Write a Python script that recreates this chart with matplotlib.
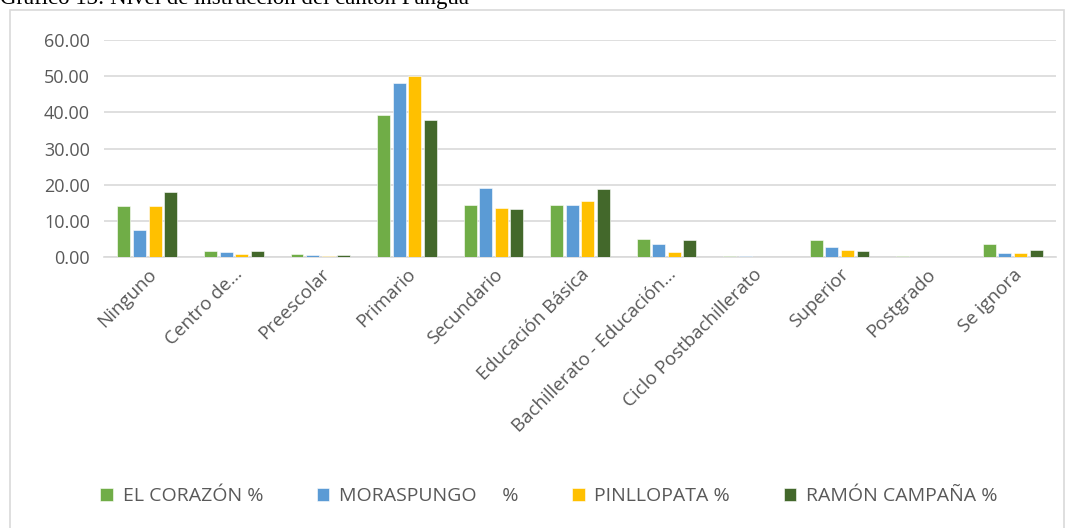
import numpy as np
import matplotlib.pyplot as plt
from matplotlib.patches import Rectangle

# Education level per parish (percent)
categories = ["Ninguno", "Centro de…", "Preescolar", "Primario", "Secundario",
              "Educación Básica", "Bachillerato - Educación…",
              "Ciclo Postbachillerato", "Superior", "Postgrado", "Se ignora"]
el_corazon = [14.2, 1.7, 0.9, 39.2, 14.4, 14.5, 5.1, 0.2, 4.7, 0.2, 3.7]
moraspungo = [7.5, 1.4, 0.6, 48.1, 19.0, 14.3, 3.7, 0.2, 2.9, 0.0, 1.0]
pinllopata = [14.1, 0.9, 0.3, 50.0, 13.6, 15.5, 1.5, 0.0, 1.9, 0.0, 1.2]
ramon_campana = [18.1, 1.7, 0.6, 37.8, 13.3, 18.9, 4.8, 0.0, 1.7, 0.0, 1.8]

series = [
    ("EL CORAZÓN %", el_corazon, "#70AD47"),
    ("MORASPUNGO     %", moraspungo, "#5B9BD5"),
    ("PINLLOPATA %", pinllopata, "#FFC000"),
    ("RAMÓN CAMPAÑA %", ramon_campana, "#43682B"),
]

TEXT = "#595959"
GRID = "#d9d9d9"

fig = plt.figure(figsize=(10.67, 5.28), dpi=100)
fig.patch.set_facecolor("white")

# Outer chart frame
fig.patches.append(Rectangle((10 / 1067, -0.01), 1054 / 1067, 1 - 10 / 528 + 0.01,
                             transform=fig.transFigure, fill=False,
                             edgecolor=GRID, linewidth=1.2))

# Caption above the frame (only partly in view)
fig.text(0.0, 1 - 4 / 528, "Gráfico 13: Nivel de instrucción del cantón Pangua",
         family="Liberation Serif", fontsize=16.5, va="baseline", ha="left")

ax = fig.add_axes([104 / 1067, 1 - 257 / 528, 952 / 1067, 217 / 528])
x = np.arange(len(categories))
step = 0.18
width = 0.15
for i, (label, vals, color) in enumerate(series):
    ax.bar(x + (i - 1.5) * step, vals, width=width, color=color, label=label,
           edgecolor="white", linewidth=0.4, zorder=3)

ax.set_xlim(-0.5, len(categories) - 0.5)
ax.set_ylim(0, 60)
ax.set_yticks(np.arange(0, 61, 10))
ax.set_yticklabels([f"{v:.2f}" for v in np.arange(0, 61, 10)])
ax.yaxis.grid(True, color=GRID, linewidth=1.2, zorder=0)
ax.set_axisbelow(True)
for s in ["top", "right", "left"]:
    ax.spines[s].set_visible(False)
ax.spines["bottom"].set_color(GRID)
ax.spines["bottom"].set_linewidth(1.2)
ax.tick_params(axis="y", length=0, colors=TEXT, labelsize=13, pad=10)
ax.tick_params(axis="x", length=0, colors=TEXT, labelsize=13.5, pad=6)
ax.set_xticks(x)
ax.set_xticklabels(categories, rotation=45, ha="right", rotation_mode="anchor")
for t in ax.get_xticklabels() + ax.get_yticklabels():
    t.set_family("Open Sans")
    t.set_color(TEXT)

ax.legend(loc="center", bbox_to_anchor=((549 / 1067), (528 - 496) / 528), bbox_transform=fig.transFigure,
          ncol=4, frameon=False, handlelength=0.65, handleheight=0.65, columnspacing=2.75,
          handletextpad=0.5, prop={"family": "Open Sans", "size": 14}, labelcolor=TEXT)

fig.savefig("out.png", dpi=100)
